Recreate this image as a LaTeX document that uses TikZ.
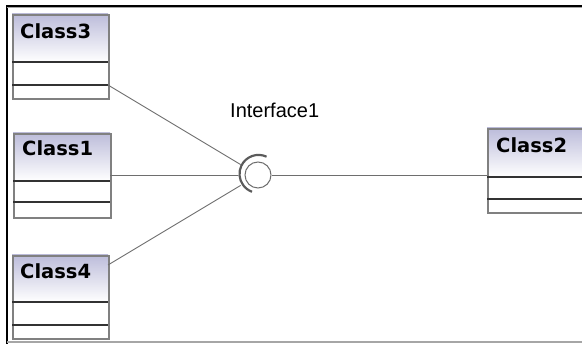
\documentclass[tikz,border=0pt]{standalone}
\usepackage{fontspec}
\setmainfont{Liberation Sans}
\newfontfamily\clsfont{DejaVu Sans}
\definecolor{hdrtop}{RGB}{188,188,218}
\definecolor{boxborder}{RGB}{128,128,128}
\definecolor{sepline}{RGB}{50,50,50}
\definecolor{conn}{RGB}{110,110,110}
\tikzset{
  classbox/.style={draw=boxborder, line width=1.6pt, rectangle, inner sep=0pt, anchor=north west},
  clsname/.style={font=\clsfont\bfseries\fontsize{19.5}{21}\selectfont, anchor=base west, inner sep=0pt},
  sepl/.style={draw=sepline, line width=1.4pt},
  connector/.style={draw=conn, line width=0.9pt},
  hdr/.style={top color=hdrtop, bottom color=white},
}
\begin{document}
\begin{tikzpicture}[x=1pt,y=-1pt]
\useasboundingbox (0,0) rectangle (582,344);
% frame
\draw[black, line width=1.6pt] (7,344) -- (7,6) -- (590,6);
\draw[gray!70, line width=1pt] (7,7.6) -- (590,7.6);
\draw[gray!70, line width=1.4pt] (7,342) -- (590,342);
% Class3
\shade[hdr] (12,14) rectangle (108,62);
\node[classbox, minimum width=96pt, minimum height=84pt] (c3) at (12,14) {};
\draw[sepl] (12,62) -- (108,62);
\draw[sepl] (12,85) -- (108,85);
\node[clsname] (c3t) at (20,39) {Class3};
% Class1
\shade[hdr] (13,133) rectangle (110,181);
\node[classbox, minimum width=97pt, minimum height=84pt] (c1) at (13,133) {};
\draw[sepl] (13,181) -- (110,181);
\draw[sepl] (13,202) -- (110,202);
\node[clsname] (c1t) at (22,156) {Class1};
% Class4
\shade[hdr] (12,255) rectangle (108,302);
\node[classbox, minimum width=96pt, minimum height=83pt] (c4) at (12,255) {};
\draw[sepl] (12,302) -- (108,302);
\draw[sepl] (12,325) -- (108,325);
\node[clsname] (c4t) at (20,279) {Class4};
% Class2
\shade[hdr] (487,128) rectangle (600,177);
\node[classbox, minimum width=113pt, minimum height=84pt] (c2) at (487,128) {};
\draw[sepl] (487,177) -- (600,177);
\draw[sepl] (487,199) -- (600,199);
\node[clsname] (c2t) at (496,153) {Class2};
% interface
\node[circle, draw=conn, line width=1pt, minimum size=26pt, inner sep=0pt] (ball) at (258,175) {};
\node[circle, minimum size=40pt, inner sep=0pt] (sock) at (258,175) {};
\draw[sepline!80, line width=2.2pt] (sock.65) arc[start angle=65, end angle=250, radius=19pt];
\node[anchor=base west, inner sep=0pt, font=\fontsize{20}{22}\selectfont] (lbl) at (230,118) {Interface1};
% connector points
\coordinate (p3) at (108,85);
\coordinate (p1) at (110,175);
\coordinate (p4) at (108,265);
\coordinate (p2) at (487,175);
\draw[connector] (p3) -- (sock);
\draw[connector] (p1) -- (sock);
\draw[connector] (p4) -- (sock);
\draw[connector] (ball.east) -- (p2);
\end{tikzpicture}
\end{document}
